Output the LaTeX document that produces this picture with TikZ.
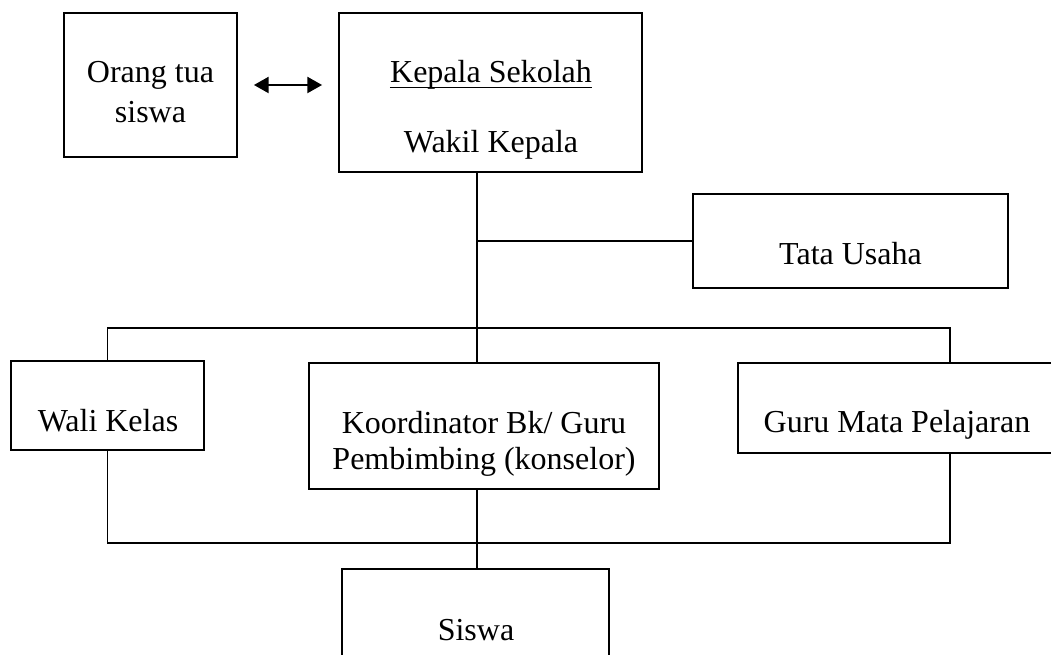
\documentclass[tikz,border=0pt]{standalone}
\usepackage{fontspec}
\setmainfont{Liberation Serif}
\usetikzlibrary{arrows.meta,positioning,fit}
\tikzset{
  kotak/.style={draw,line width=1.4pt,inner sep=0pt},
  teks/.style={anchor=base,inner sep=0pt,font=\fontsize{24}{28}\selectfont},
  garis/.style={line width=1.3pt},
  panah/.style={line width=1.5pt,{Triangle[length=11pt,width=12pt]}-{Triangle[length=11pt,width=12pt]},shorten <=12pt,shorten >=12pt}
}

\begin{document}
\begin{tikzpicture}[x=0.75pt,y=-0.75pt]
      \useasboundingbox (0,0) rectangle (1051,655);
      % Kotak-kotak
      \node[kotak,fit={(64,13) (237,157)}] (orang) {};
      \node[kotak,fit={(339,13) (642,172)}] (kepala) {};
      \node[kotak,fit={(693,194) (1008,288)}] (tata) {};
      \node[kotak,fit={(11,361) (204,450)}] (wali) {};
      \node[kotak,fit={(309,363) (659,489)}] (koor) {};
      \node[kotak,fit={(738,363) (1058,453)}] (guru) {};
      \node[kotak,fit={(342,569) (609,690)}] (siswa) {};
      % Tulisan
      \node[teks] (t1) at (150.5,83) {Orang tua};
      \node[teks] (t2) at (150.5,123) {siswa};
      \node[teks] (ks) at (491,83) {Kepala Sekolah};
      \draw[line width=1.1pt] ([yshift=-3.5pt]ks.base west) -- ([yshift=-3.5pt]ks.base east);
      \node[teks] (wk) at (491,153) {Wakil Kepala};
      \node[teks] (tu) at (850.5,265) {Tata Usaha};
      \node[teks] (wl) at (108,432) {Wali Kelas};
      \node[teks] (k1) at (484,434) {Koordinator Bk/ Guru};
      \node[teks] (k2) at (484,470) {Pembimbing (konselor)};
      \node[teks] (gm) at (897,433) {Guru Mata Pelajaran};
      \node[teks] (sw) at (476,641) {Siswa};
      % Garis penghubung
      \coordinate (cab) at (477,241);
      \coordinate (ka) at (950,328);
      \coordinate (kb) at (950,543);
      \draw[panah] (orang.east) -- (orang.east -| kepala.west);
      \draw[garis] (kepala.south -| cab) -- (koor.north -| cab);
      \draw[garis] (cab) -- (tata.west);
      \draw[garis] (wali.north) |- (ka) -- (ka |- guru.north);
      \draw[garis] (wali.south) |- (kb) -- (kb |- guru.south);
      \draw[garis] (koor.south -| cab) -- (siswa.north -| cab);
    \end{tikzpicture}
\end{document}
